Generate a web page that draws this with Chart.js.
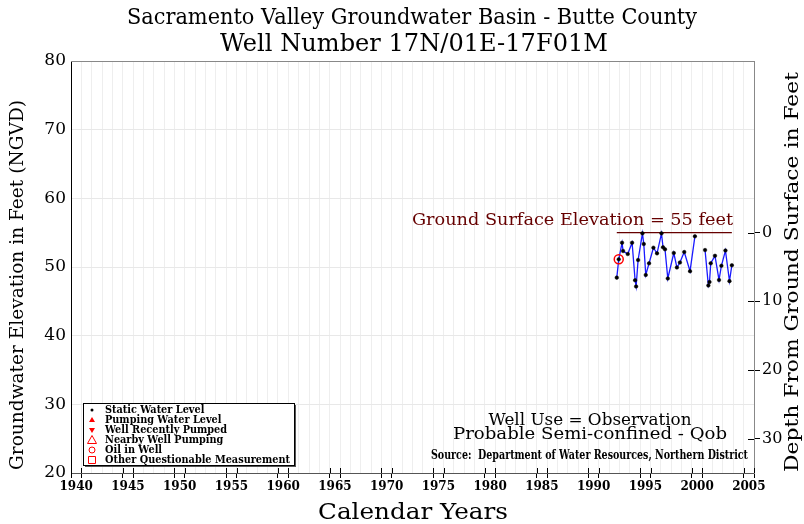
<!DOCTYPE html>
<html>
<head>
<meta charset="utf-8">
<title>Well 17N/01E-17F01M</title>
<script src="https://cdn.jsdelivr.net/npm/chart.js@4"></script>
<style>
  html, body { margin: 0; padding: 0; background: #fff; }
  #wrap { width: 804px; height: 524px; position: relative; }
</style>
</head>
<body>
<div id="wrap"><canvas id="hydro"></canvas></div>
<script>
// Hydrograph - Sacramento Valley Groundwater Basin, Butte County

// Measurement dates (decimal years) and water surface elevations (feet, NGVD)
const years = [
    1992.74, 1992.93, 1993.25, 1993.35, 1993.80, 1994.22, 1994.51, 1994.61, 1994.80,
    1995.22, 1995.35, 1995.54, 1995.86, 1996.28, 1996.63, 1997.06, 1997.21, 1997.40,
    1997.67, 1998.25, 1998.55, 1998.84, 1999.26, 1999.82, 2000.29,
    2000.80,
    2001.27, 2001.59, 2001.70, 2001.82, 2002.23, 2002.62, 2002.85, 2003.24, 2003.63, 2003.86
];
const levels = [
    48.45, 51.12, 53.53, 52.33, 51.89, 53.53, 48.07, 47.17, 51.02,
    54.90, 53.35, 48.84, 50.54, 52.81, 51.99, 54.90, 52.87, 52.58,
    48.33, 52.04, 49.93, 50.66, 52.18, 49.39, 54.47,
    null, // no readings - line is broken here
    52.47, 47.31, 47.82, 50.54, 51.63, 48.11, 50.18, 52.40, 47.94, 50.25
];

// Questionable measurement (oil in well)
const oilYears = [1992.93];
const oilLevels = [51.12];

// Ground surface elevation
const groundSurface = 55;

// Axis ticks
const elevTicks = [20, 30, 40, 50, 60, 70, 80];
const depthTicks = [0, 10, 20, 30];
const yearLabels = [1940, 1945, 1950, 1955, 1960, 1965, 1970, 1975, 1980, 1985, 1990, 1995, 2000, 2005];

// Legend entries
const legendItems = [
    'Static Water Level',
    'Pumping Water Level',
    'Well Recently Pumped',
    'Nearby Well Pumping',
    'Oil in Well',
    'Other Questionable Measurement'
];

const SERIF = '"DejaVu Serif", "Liberation Serif", serif';
const RED = '#ff0000';
const DARKRED = '#660000';

const readings = years.map((x, i) => ({ x: x, y: levels[i] }));
const oilPoints = oilYears.map((x, i) => ({ x: x, y: oilLevels[i] }));
const firstYear = Math.min(...years);
const lastYear = Math.max(...years);

// Draw text squeezed/stretched horizontally to a given width
function fitText(ctx, text, x, y, font, width, align, color, angle) {
    ctx.save();
    ctx.font = font;
    const w = ctx.measureText(text).width;
    ctx.translate(x, y);
    if (angle) ctx.rotate(angle);
    ctx.scale(width / w, 1);
    ctx.textAlign = align || 'center';
    ctx.textBaseline = 'middle';
    ctx.fillStyle = color || '#000';
    ctx.fillText(text, 0, 0);
    ctx.restore();
}

function drawMarker(ctx, kind, x, y) {
    ctx.save();
    ctx.strokeStyle = RED;
    ctx.fillStyle = RED;
    ctx.lineWidth = 1;
    ctx.beginPath();
    if (kind === 0) {
        ctx.fillStyle = '#000';
        ctx.arc(x, y, 1.5, 0, Math.PI * 2);
        ctx.fill();
    } else if (kind === 1) {
        ctx.moveTo(x, y - 3); ctx.lineTo(x + 3, y + 2); ctx.lineTo(x - 3, y + 2);
        ctx.closePath(); ctx.fill();
    } else if (kind === 2) {
        ctx.moveTo(x, y + 3); ctx.lineTo(x + 3, y - 2); ctx.lineTo(x - 3, y - 2);
        ctx.closePath(); ctx.fill();
    } else if (kind === 3) {
        ctx.moveTo(x, y - 4.5); ctx.lineTo(x + 4.5, y + 3.5); ctx.lineTo(x - 4.5, y + 3.5);
        ctx.closePath(); ctx.stroke();
    } else if (kind === 4) {
        ctx.arc(x, y, 3, 0, Math.PI * 2);
        ctx.stroke();
    } else {
        ctx.rect(x - 3.5, y - 3.5, 7, 7);
        ctx.stroke();
    }
    ctx.restore();
}

// Titles, frame, legend box and notes
const decorations = {
    id: 'decorations',
    afterDraw(chart) {
        const ctx = chart.ctx;
        const area = chart.chartArea;
        const xs = chart.scales.x;
        const ys2 = chart.scales.y2;

        // frame: top and right border in gray
        ctx.save();
        ctx.strokeStyle = '#888';
        ctx.lineWidth = 1;
        ctx.beginPath();
        ctx.moveTo(area.left, area.top + 0.5);
        ctx.lineTo(area.right + 0.5, area.top + 0.5);
        ctx.lineTo(area.right + 0.5, area.bottom);
        ctx.stroke();

        // inner halves of tick marks
        ctx.strokeStyle = '#000';
        ctx.beginPath();
        for (let yr = 1940; yr <= 2006; yr++) {
            if (yr % 5 === 0 || yr % 5 === 1) {
                const px = Math.round(xs.getPixelForValue(yr)) + 0.5;
                ctx.moveTo(px, area.bottom);
                ctx.lineTo(px, area.bottom - 5);
            }
        }
        depthTicks.forEach(d => {
            const py = Math.round(ys2.getPixelForValue(d)) + 0.5;
            ctx.moveTo(area.right, py);
            ctx.lineTo(area.right - 6, py);
        });
        ctx.stroke();
        ctx.restore();

        // titles
        fitText(ctx, 'Sacramento Valley Groundwater Basin - Butte County', 412, 18, '22px ' + SERIF, 570);
        fitText(ctx, 'Well Number 17N/01E-17F01M', 414, 45, '24px ' + SERIF, 388);
        fitText(ctx, 'Calendar Years', 413, 513, '22px ' + SERIF, 190);
        fitText(ctx, 'Groundwater Elevation in Feet (NGVD)', 18, 285, '19px ' + SERIF, 370, 'center', '#000', -Math.PI / 2);
        fitText(ctx, 'Depth From Ground Surface in Feet', 793, 272, '19px ' + SERIF, 400, 'center', '#000', -Math.PI / 2);

        // ground surface label
        fitText(ctx, 'Ground Surface Elevation = 55 feet', 733, 221, '16px ' + SERIF, 321, 'right', DARKRED);

        // well notes
        fitText(ctx, 'Well Use = Observation', 590, 421, '16px ' + SERIF, 203);
        fitText(ctx, 'Probable Semi-confined - Qob', 590, 435, '16px ' + SERIF, 274);
        fitText(ctx, 'Source:  Department of Water Resources, Northern District', 748, 456,
            'bold 12px ' + SERIF, 317, 'right');

        // legend box
        const bx = 83, by = 403, bw = 211, bh = 62;
        ctx.save();
        ctx.fillStyle = '#555';
        ctx.fillRect(bx + 2, by + 2, bw, bh);
        ctx.fillStyle = '#fff';
        ctx.fillRect(bx, by, bw, bh);
        ctx.strokeStyle = '#000';
        ctx.lineWidth = 1;
        ctx.strokeRect(bx + 0.5, by + 0.5, bw, bh);
        ctx.restore();
        ctx.save();
        ctx.font = 'bold 11px ' + SERIF;
        const sx = 185 / ctx.measureText(legendItems[5]).width;
        ctx.restore();
        legendItems.forEach((label, i) => {
            const ry = by + 7 + i * 10;
            drawMarker(ctx, i, bx + 9, ry);
            ctx.save();
            ctx.font = 'bold 11px ' + SERIF;
            const w = ctx.measureText(label).width;
            ctx.restore();
            fitText(ctx, label, bx + 22, ry, 'bold 11px ' + SERIF, w * sx, 'left');
        });
    }
};

const ctx = document.getElementById('hydro').getContext('2d');

new Chart(ctx, {
    type: 'line',
    data: {
        datasets: [
            {
                label: 'Oil in Well',
                data: oilPoints,
                showLine: false,
                pointRadius: 4.5,
                pointBorderColor: RED,
                pointBackgroundColor: 'rgba(0,0,0,0)',
                pointBorderWidth: 1.5,
                order: 0
            },
            {
                label: 'Static Water Level',
                data: readings,
                borderColor: '#1a1aff',
                borderWidth: 1.3,
                pointRadius: 1.8,
                pointBackgroundColor: '#000',
                pointBorderColor: '#000',
                pointBorderWidth: 0.5,
                spanGaps: false,
                tension: 0,
                order: 1
            },
            {
                label: 'Ground Surface',
                data: [{ x: firstYear, y: groundSurface }, { x: lastYear, y: groundSurface }],
                borderColor: DARKRED,
                borderWidth: 1.3,
                pointRadius: 0,
                order: 2
            }
        ]
    },
    options: {
        responsive: true,
        maintainAspectRatio: false,
        animation: false,
        layout: { padding: { top: 61, left: 0, right: 0, bottom: 0 } },
        plugins: {
            legend: { display: false },
            title: { display: false },
            tooltip: { enabled: false }
        },
        scales: {
            x: {
                type: 'linear',
                min: 1940,
                max: 2006,
                afterBuildTicks: scale => {
                    const t = [];
                    for (let v = 1940; v <= 2006; v += 0.5) t.push({ value: v });
                    scale.ticks = t;
                },
                afterFit: scale => { scale.height = 51; },
                ticks: {
                    autoSkip: false,
                    maxRotation: 0,
                    padding: 2,
                    color: '#000',
                    font: { family: SERIF, size: 12, weight: 'bold' },
                    callback: v => (yearLabels.includes(v - 0.5) ? String(v - 0.5) : '')
                },
                grid: {
                    color: c => (Number.isInteger(c.tick.value) ? '#eeeeee' : 'rgba(0,0,0,0)'),
                    tickColor: c => {
                        const v = c.tick.value;
                        return Number.isInteger(v) && (v % 5 === 0 || v % 5 === 1) ? '#000' : 'rgba(0,0,0,0)';
                    },
                    tickLength: 5
                },
                border: { color: '#555', width: 1 }
            },
            y: {
                position: 'left',
                min: 20,
                max: 80,
                afterBuildTicks: scale => { scale.ticks = elevTicks.map(v => ({ value: v })); },
                afterFit: scale => { scale.width = 71; },
                ticks: {
                    padding: 5,
                    color: '#000',
                    font: { family: SERIF, size: 17 }
                },
                grid: { color: '#e8e8e8', drawTicks: false },
                border: { color: '#000', width: 1 }
            },
            y2: {
                position: 'right',
                min: groundSurface - 80,
                max: groundSurface - 20,
                reverse: true,
                afterBuildTicks: scale => { scale.ticks = depthTicks.map(v => ({ value: v })); },
                afterFit: scale => { scale.width = 50; },
                ticks: {
                    padding: 2,
                    color: '#000',
                    font: { family: SERIF, size: 16 }
                },
                grid: { drawOnChartArea: false, tickColor: '#000', tickLength: 6 },
                border: { color: '#888', width: 1 }
            }
        }
    },
    plugins: [decorations]
});
</script>
</body>
</html>
